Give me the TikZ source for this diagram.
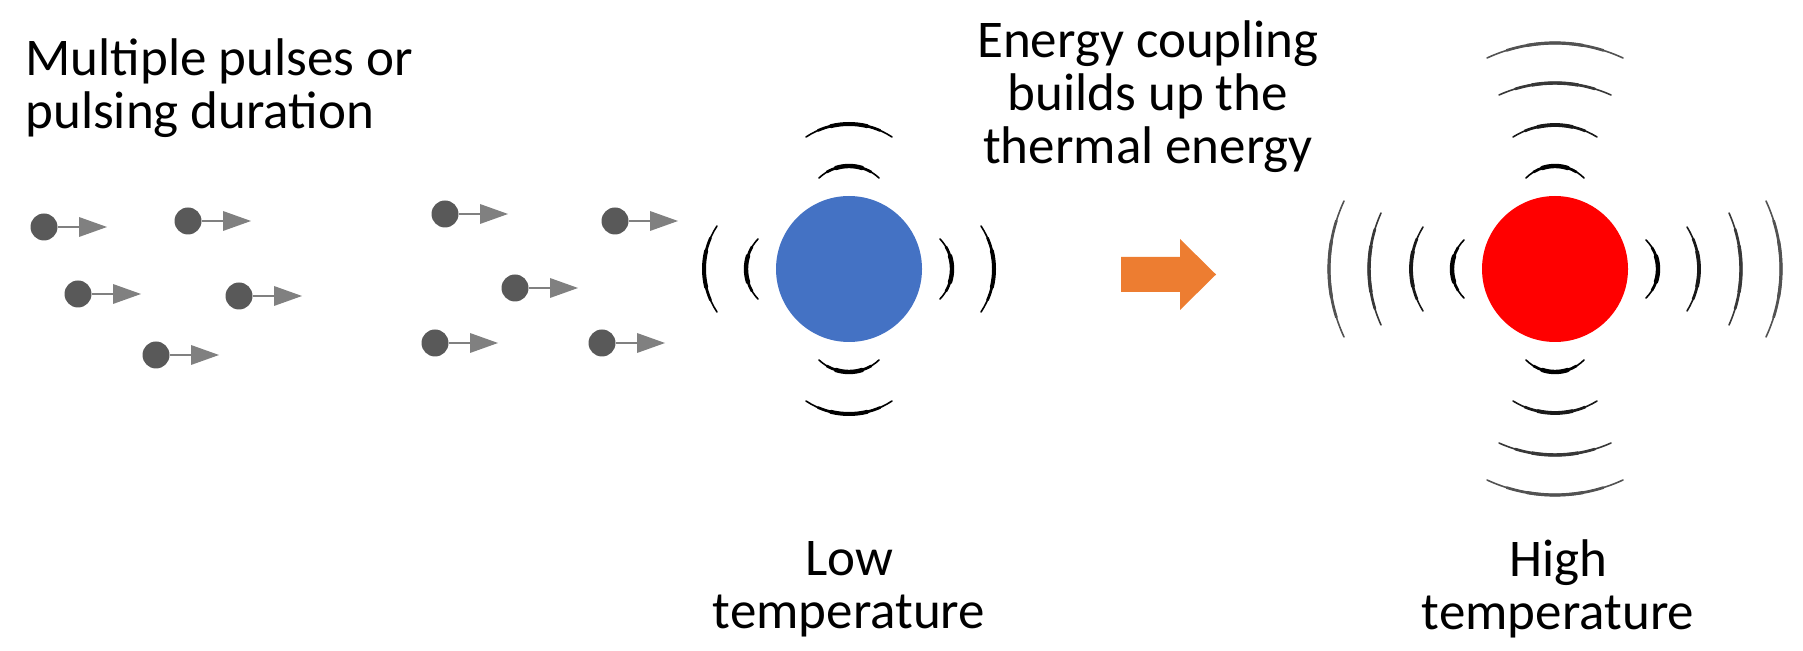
\documentclass[tikz,border=0pt]{standalone}
\usepackage{fontspec}
\setmainfont{Carlito}
\usetikzlibrary{calc}
\definecolor{lowblue}{HTML}{4472C4}
\definecolor{hotred}{HTML}{FF0000}
\definecolor{flowor}{HTML}{ED7D31}
\definecolor{dotgray}{HTML}{595959}
\definecolor{arrgray}{HTML}{808080}
\newcommand\wavearc[7]{%
  \pgfmathsetmacro\wvR{(#5*#5+#6*#6)/(2*#6)}%
  \pgfmathsetmacro\wvA{asin(#5/\wvR)}%
  \foreach \f/\lw in {1/0.8,0.7/1.35,0.4/#7}{%
    \draw[line width=\lw pt, line cap=round]
      ($(#1,#2)+({#3}:{#4-\wvR})+({#3+\f*\wvA}:{\wvR})$)
      arc[start angle={#3+\f*\wvA}, end angle={#3-\f*\wvA}, radius=\wvR];
  }%
}
\begin{document}
\begin{tikzpicture}[x=0.5pt,y=0.5pt,
  lbl/.style={font=\fontsize{26.5pt}{26.5pt}\selectfont, inner sep=0pt, align=center, anchor=base},
  dot/.style={circle, fill=dotgray, minimum size=13.5pt, inner sep=0pt},
  stem/.style={draw=arrgray, line width=1pt},
  head/.style={fill=arrgray},
  ball/.style={circle, minimum size=73pt, inner sep=0pt}]
\useasboundingbox (0,0) rectangle (1803,-651);

% text (anchor base = baseline of last line)
\node[lbl, align=left, anchor=base west] (tpulse) at (25,-129) {Multiple pulses or\\pulsing duration};
\node[lbl] (tcoup) at (1148,-164) {Energy coupling\\builds up the\\thermal energy};
\node[lbl] (tlow) at (849,-628) {Low\\temperature};
\node[lbl] (thigh) at (1558,-629) {High\\temperature};

% particles
\foreach \n/\px/\py in {1/44/227, 2/188/221, 3/78/294, 4/239/296, 5/156/355,
                        6/445/214, 7/615/221, 8/515/288, 9/435/343, 10/602/343}{
  \node[dot] (p\n) at (\px,-\py) {};
  \draw[stem] (p\n.east) -- ($(p\n)+(36,0)$);
  \fill[head] ($(p\n)+(35,10)$) -- ($(p\n)+(63,0)$) -- ($(p\n)+(35,-10)$) -- cycle;
}

% low temperature
\node[ball, fill=lowblue] (cold) at (849,-269) {};
\foreach \d in {90,270,0,180}{
  \wavearc{849}{-269}{\d}{103}{30}{12}{2.2}
  \wavearc{849}{-269}{\d}{145}{43}{13}{2.0}
}

% arrow
\fill[flowor] (1121,-257) -- (1180,-257) -- (1180,-239) -- (1216,-274.5)
  -- (1180,-310) -- (1180,-292) -- (1121,-292) -- cycle;

% high temperature
\node[ball, fill=hotred] (hot) at (1555,-269) {};
\foreach \d in {90,270,0,180}{
  \wavearc{1555}{-269}{\d}{103}{29}{12}{2.2}
  \begin{scope}[color=black!90]
    \wavearc{1555}{-269}{\d}{144}{42}{12}{1.9}
  \end{scope}
  \begin{scope}[color=black!78]
    \wavearc{1555}{-269}{\d}{186}{56}{12}{1.7}
  \end{scope}
  \begin{scope}[color=black!68]
    \wavearc{1555}{-269}{\d}{226}{68}{15}{1.6}
  \end{scope}
}
\end{tikzpicture}
\end{document}
